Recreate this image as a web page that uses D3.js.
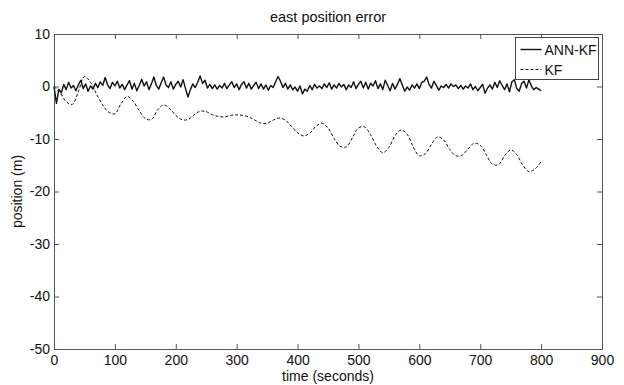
<!DOCTYPE html>
<html lang="en">
<head>
  <meta charset="UTF-8">
  <title>east position error</title>
  <style>
    body { margin: 0; background: #fff; }
    svg { display: block; font-family: "Liberation Sans", Arial, sans-serif; }
    .axis path, .axis line { stroke: #555; }
    .axis text { fill: #111; font-size: 14px; font-family: "Liberation Sans", Arial, sans-serif; }
  </style>
</head>
<body>
  <div id="chart"></div>

  <script src="https://d3js.org/d3.v7.min.js"></script>

  <script>
    // x ticks / y ticks of the figure
    var xTicks = [0, 100, 200, 300, 400, 500, 600, 700, 800, 900];
    var yTicks = [-50, -40, -30, -20, -10, 0, 10];

    // ANN-KF error, one sample every 4 seconds (0..800 s)
    var annStep = 4;
    var annKF = [
      0.0, -3.2, -0.5, -1.2, 0.4, -0.6, 0.8, -0.3, 0.2, -0.8,
      0.3, 1.2, -0.4, 0.5, -0.9, 0.1, -0.5, 0.6, -0.2, 0.9,
      0.2, 1.7, 0.3, -0.4, 0.8, 0.1, 1.0, -0.3, 0.4, -0.6,
      0.3, 1.1, -0.5, 0.6, -0.8, 0.2, 1.4, 0.1, 0.9, -0.6,
      0.5, 1.8, 0.2, -0.5, 0.7, 1.8, 0.3, -0.2, 0.9, -0.5,
      0.4, 1.0, -0.1, 1.3, -0.4, -2.0, -0.6, 0.5, -0.2, 0.8,
      2.0, 0.6, 1.2, -0.3, 0.4, -0.4, 0.3, -0.5, 0.2, -0.3,
      0.6, -0.4, 0.3, 0.9, -0.2, 0.5, -0.6, 0.4, 0.9, -0.3,
      0.6, -0.5, 0.2, 0.8, -0.4, 0.5, -0.5, 0.3, -0.7, 0.2,
      -0.2, 0.9, 1.9, 1.0, -0.2, 0.6, -0.5, 0.3, -0.6, -0.1,
      -0.9, 0.1, -1.4, -0.5, -0.9, 0.2, -0.6, 0.4, -0.3, 0.1,
      -0.4, 0.5, -0.2, 0.7, -0.5, 0.3, -0.3, 0.6, -0.1, 0.4,
      -0.6, 0.3, -0.2, 0.9, -0.4, 0.4, 1.0, -0.3, 0.8, -0.5,
      0.6, 0.1, 1.1, -0.4, 0.5, -0.6, 1.2, 0.2, -0.8, 0.6,
      -0.5, 0.4, 1.5, 0.3, -0.9, -0.1, -0.7, 0.3, -0.3, 0.5,
      -0.4, 0.8, 1.0, 1.8, 0.4, -0.3, 1.0, 0.2, -0.7, 0.1,
      -0.2, 0.4, -0.3, 0.5, 0.0, 0.3, -0.4, 0.2, -0.5, 0.1,
      -0.3, 0.5, -0.6, 0.0, -0.8, -0.2, 0.4, -1.3, -0.3, 0.3,
      -0.5, 0.8, -0.2, 1.1, 0.2, -0.6, 0.5, -1.0, 0.9, 1.3,
      -0.4, -0.9, 0.6, 1.0, -0.3, 1.3, 0.1, -0.6, -0.2, -0.5,
      -0.8
    ];

    // KF error, one sample every 10 seconds (0..800 s)
    var kfStep = 10;
    var kf = [
      0.0, -1.2, -2.9, -3.4, -1.0, 1.9, 0.8, -1.5, -3.5, -4.9,
      -5.2, -3.3, -1.9, -2.8, -4.6, -6.1, -6.3, -4.5, -3.5, -4.2,
      -5.5, -6.3, -6.3, -5.4, -4.7, -4.8, -5.4, -5.7, -5.8, -5.5,
      -5.4, -5.5, -5.8, -6.4, -7.0, -7.0, -6.4, -6.0, -6.4, -7.6,
      -8.8, -9.4, -8.9, -7.6, -7.0, -7.9, -9.9, -11.4, -11.5, -9.8,
      -7.9, -7.7, -9.2, -11.4, -12.6, -11.6, -9.4, -8.3, -9.1, -11.5,
      -13.2, -12.8, -11.0, -9.6, -10.2, -12.0, -13.2, -13.1, -11.9, -10.8,
      -11.2, -13.0, -14.8, -14.9, -13.2, -12.1, -13.0, -15.0, -16.2, -15.7,
      -14.3
    ];

    var seriesNames = ["ANN-KF", "KF"];

    var margin = {top: 34, right: 22, bottom: 36, left: 54},
        width = 624 - margin.left - margin.right,
        height = 385 - margin.top - margin.bottom;

    var svg = d3.select("#chart")
      .append("svg")
      .attr("width", 624)
      .attr("height", 385);

    var g = svg.append("g")
      .attr("transform", "translate(" + margin.left + "," + margin.top + ")");

    var x = d3.scaleLinear().domain([0, 900]).range([0, width]);
    var y = d3.scaleLinear().domain([-50, 10]).range([height, 0]);

    // plain hyphen for negatives, like the original
    var plain = function(d) { return String(d); };

    // axes, MATLAB style: ticks inside, box all round
    g.append("g")
      .attr("class", "axis")
      .attr("transform", "translate(0," + height + ")")
      .call(d3.axisBottom(x).tickValues(xTicks).tickFormat(plain).tickSizeInner(-5).tickSizeOuter(0).tickPadding(6));
    g.append("g")
      .attr("class", "axis")
      .call(d3.axisTop(x).tickValues(xTicks).tickSizeInner(-5).tickSizeOuter(0).tickFormat(""));
    g.append("g")
      .attr("class", "axis")
      .call(d3.axisLeft(y).tickValues(yTicks).tickFormat(plain).tickSizeInner(-5).tickSizeOuter(0).tickPadding(4));
    g.append("g")
      .attr("class", "axis")
      .attr("transform", "translate(" + width + ",0)")
      .call(d3.axisRight(y).tickValues(yTicks).tickSizeInner(-5).tickSizeOuter(0).tickFormat(""));

    // lines
    var annLine = d3.line()
      .x(function(d, i) { return x(i * annStep); })
      .y(function(d) { return y(d); });
    var kfLine = d3.line()
      .x(function(d, i) { return x(i * kfStep); })
      .y(function(d) { return y(d); })
      .curve(d3.curveCatmullRom);

    g.append("path")
      .datum(kf)
      .attr("fill", "none")
      .attr("stroke", "#111")
      .attr("stroke-width", 1)
      .attr("stroke-dasharray", "3,2")
      .attr("d", kfLine);

    g.append("path")
      .datum(annKF)
      .attr("fill", "none")
      .attr("stroke", "#111")
      .attr("stroke-width", 1.4)
      .attr("stroke-linejoin", "round")
      .attr("d", annLine);

    // title and axis labels
    svg.append("text")
      .attr("x", margin.left + width / 2)
      .attr("y", 22)
      .attr("text-anchor", "middle")
      .style("font-size", "14.5px")
      .style("fill", "#111")
      .text("east position error");

    svg.append("text")
      .attr("x", margin.left + width / 2)
      .attr("y", 381)
      .attr("text-anchor", "middle")
      .style("font-size", "14px")
      .style("fill", "#111")
      .text("time (seconds)");

    svg.append("text")
      .attr("transform", "translate(22," + (margin.top + height / 2) + ") rotate(-90)")
      .attr("text-anchor", "middle")
      .style("font-size", "14px")
      .style("fill", "#111")
      .text("position (m)");

    // legend
    var legend = svg.append("g").attr("transform", "translate(515.5,37.5)");
    legend.append("rect")
      .attr("width", 83)
      .attr("height", 42)
      .attr("fill", "#fff")
      .attr("stroke", "#444");
    legend.selectAll("line")
      .data(seriesNames)
      .enter()
      .append("line")
      .attr("x1", 5)
      .attr("x2", 26)
      .attr("y1", function(d, i) { return 12 + i * 20; })
      .attr("y2", function(d, i) { return 12 + i * 20; })
      .attr("stroke", "#111")
      .attr("stroke-width", function(d, i) { return i === 0 ? 1.4 : 1; })
      .attr("stroke-dasharray", function(d, i) { return i === 0 ? null : "3,2"; });
    legend.selectAll("text")
      .data(seriesNames)
      .enter()
      .append("text")
      .attr("x", 29)
      .attr("y", function(d, i) { return 17 + i * 20; })
      .style("font-size", "14px")
      .style("fill", "#111")
      .text(function(d) { return d; });
  </script>
</body>
</html>
